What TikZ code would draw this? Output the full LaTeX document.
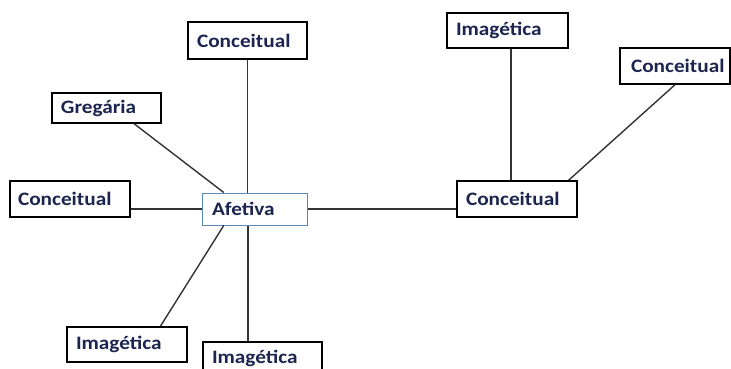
\documentclass[tikz,border=0pt]{standalone}
\usepackage{fontspec}
\setmainfont{Carlito}
\usetikzlibrary{calc}
\definecolor{labelink}{HTML}{1B2550}
\definecolor{hubline}{HTML}{5B87C0}
\tikzset{
  concept/.style={draw=black, line width=1.5pt, fill=white, rectangle, inner xsep=0pt, inner ysep=0pt,
    font=\fontsize{19}{22}\selectfont\bfseries, text=labelink},
  hub/.style={concept, draw=hubline, line width=1pt},
  link/.style={draw=black!80, line width=1.4pt}
}
% label set inside a fixed-size box: width, height, left indent, text
\newcommand{\lbl}[4]{\parbox[c][#2pt][c]{#1pt}{\hspace*{#3pt}\scalebox{1.12}[1]{#4}}}
\begin{document}
\begin{tikzpicture}[x=1pt,y=-1pt]
\useasboundingbox (0,0) rectangle (731,369);
% concept boxes
\node[concept] (ct)  at (247.5,40.5) {\lbl{119}{37}{9}{Conceitual}};
\node[concept] (gr)  at (106.5,108)  {\lbl{109}{30}{9}{Gregária}};
\node[concept] (cl)  at (70,199)     {\lbl{120}{36}{8}{Conceitual}};
\node[hub]     (af)  at (254.5,209)  {\lbl{105}{32}{10}{Afetiva}};
\node[concept] (ib1) at (127,344.5)  {\lbl{120}{35}{9}{Imagética}};
\node[concept] (ib2) at (262.5,358)  {\lbl{119}{32}{9}{Imagética}};
\node[concept] (ir)  at (507.5,30.5) {\lbl{121}{35}{9}{Imagética}};
\node[concept] (crt) at (675,66)     {\lbl{110}{36}{11}{Conceitual}};
\node[concept] (cr)  at (517,199)    {\lbl{120}{36}{9}{Conceitual}};
% connectors
\draw[link] (ct.south) -- (ct.south |- af.north);
\draw[link] ($(gr.south west)!0.75!(gr.south east)$) -- ($(af.north west)!0.21!(af.north east)$);
\draw[link] (cl.east |- af.west) -- (af.west);
\draw[link] (af.east) -- (af.east -| cr.west);
\draw[link] ($(af.south west)!0.21!(af.south east)$) -- ($(ib1.north west)!0.775!(ib1.north east)$);
\coordinate (afb) at ($(af.south west)!0.44!(af.south east)$);
\draw[link] (afb) -- (afb |- ib2.north);
\coordinate (irb) at ($(ir.south west)!0.53!(ir.south east)$);
\draw[link] (irb) -- (irb |- cr.north);
\draw[link] (crt.south) -- ($(cr.north west)!0.925!(cr.north east)$);
\end{tikzpicture}
\end{document}
